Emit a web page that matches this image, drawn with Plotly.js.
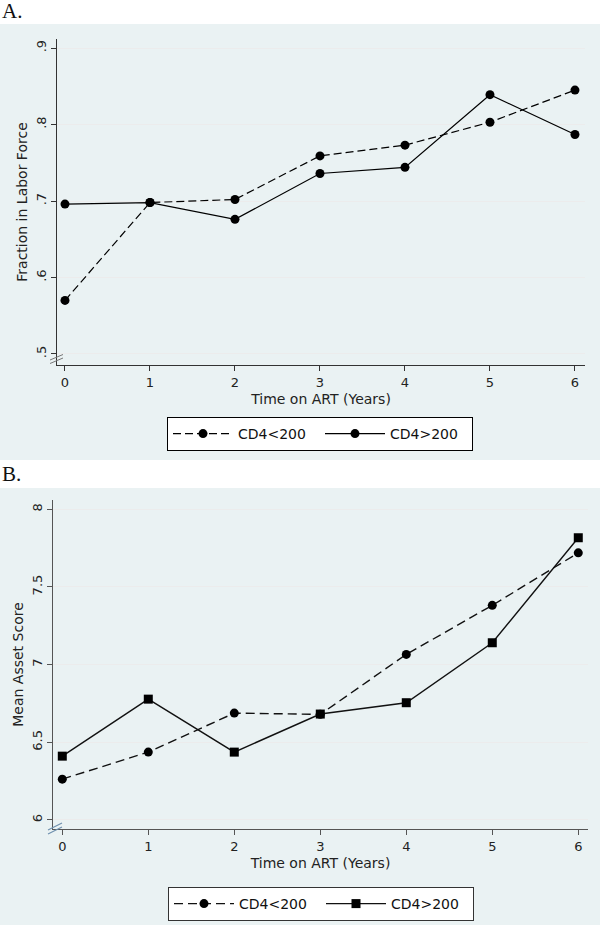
<!DOCTYPE html>
<html>
<head>
<meta charset="utf-8">
<script src="https://cdn.plot.ly/plotly-3.0.1.min.js"></script>
<style>
html,body{margin:0;padding:0;background:#fff;}
#chart{width:600px;height:925px;}
</style>
</head>
<body>
<div id="chart"></div>
<script>
// ---- data ----
const years = [0, 1, 2, 3, 4, 5, 6];
const laborLow  = [0.570, 0.698, 0.702, 0.759, 0.773, 0.803, 0.845];   // CD4<200
const laborHigh = [0.696, 0.698, 0.676, 0.736, 0.744, 0.839, 0.787];   // CD4>200
const assetLow  = [6.263, 6.437, 6.688, 6.680, 7.066, 7.382, 7.720];   // CD4<200
const assetHigh = [6.411, 6.778, 6.437, 6.682, 6.755, 7.141, 7.817];   // CD4>200
const xTicks = [0, 1, 2, 3, 4, 5, 6];
const yTicksA = [0.5, 0.6, 0.7, 0.8, 0.9];
const yTickTextA = ['.5', '.6', '.7', '.8', '.9'];
const yTicksB = [6, 6.5, 7, 7.5, 8];
const yTickTextB = ['6', '6.5', '7', '7.5', '8'];
const nameLow = 'CD4&lt;200';
const nameHigh = 'CD4&gt;200';
const titleX = 'Time on ART (Years)';
const titleYA = 'Fraction in Labor Force';
const titleYB = 'Mean Asset Score';

const W = 600, H = 925;
const px = (x) => x / W;
const py = (y) => 1 - y / H;
const FONT = 'DejaVu Sans, Verdana, sans-serif';
const BG = '#eaf2f3';

const traces = [
  {x: years, y: laborLow, name: nameLow, mode: 'lines+markers', xaxis: 'x', yaxis: 'y', legend: 'legend',
   line: {color: '#000', width: 1.2, dash: '8px,4px'}, marker: {symbol: 'circle', size: 9, color: '#000'}},
  {x: years, y: laborHigh, name: nameHigh, mode: 'lines+markers', xaxis: 'x', yaxis: 'y', legend: 'legend',
   line: {color: '#000', width: 1.2}, marker: {symbol: 'circle', size: 9, color: '#000'}},
  {x: years, y: assetLow, name: nameLow, mode: 'lines+markers', xaxis: 'x2', yaxis: 'y2', legend: 'legend2',
   line: {color: '#111', width: 1.4, dash: '9px,5px'}, marker: {symbol: 'circle', size: 9, color: '#000'}},
  {x: years, y: assetHigh, name: nameHigh, mode: 'lines+markers', xaxis: 'x2', yaxis: 'y2', legend: 'legend2',
   line: {color: '#111', width: 1.4}, marker: {symbol: 'square', size: 9, color: '#000'}}
];

const xCommon = {
  tickmode: 'array', tickvals: xTicks, ticks: 'outside', ticklen: 5, tickcolor: '#333',
  showline: true, linecolor: '#333', linewidth: 1.2, showgrid: false, zeroline: false,
  tickfont: {family: FONT, size: 13, color: '#222'},
  title: {text: titleX, font: {family: FONT, size: 14, color: '#222'}, standoff: 5}
};
const yCommon = {
  tickmode: 'array', ticks: 'outside', ticklen: 5, tickcolor: '#333', tickangle: -90,
  showline: true, linecolor: '#333', linewidth: 1.2, showgrid: true, gridcolor: '#ececec', gridwidth: 1,
  zeroline: false, tickfont: {family: FONT, size: 13, color: '#222'}
};

const legendCommon = {
  orientation: 'h', xanchor: 'center', yanchor: 'top',
  bgcolor: '#fff', borderwidth: 1, itemwidth: 60, entrywidth: 77,
  font: {family: FONT, size: 14, color: '#111'}
};

const layout = {
  width: W, height: H,
  margin: {l: 0, r: 0, t: 0, b: 0},
  paper_bgcolor: '#fff', plot_bgcolor: '#fff',
  showlegend: true,
  xaxis: Object.assign({}, xCommon, {domain: [px(57), px(585)], range: [-0.094, 6.118], anchor: 'y'}),
  yaxis: Object.assign({}, yCommon, {domain: [py(365), py(39)], range: [0.4856, 0.9118], anchor: 'x',
    tickvals: yTicksA, ticktext: yTickTextA,
    title: {text: titleYA, font: {family: FONT, size: 14, color: '#222'}, standoff: 2}}),
  xaxis2: Object.assign({}, xCommon, {domain: [px(53), px(588)], range: [-0.108, 6.113], anchor: 'y2',
    linecolor: '#555', tickcolor: '#555'}),
  yaxis2: Object.assign({}, yCommon, {domain: [py(829), py(500)], range: [5.942, 8.06], anchor: 'x2',
    linecolor: '#555', tickcolor: '#555',
    tickvals: yTicksB, ticktext: yTickTextB,
    title: {text: titleYB, font: {family: FONT, size: 14, color: '#222'}, standoff: 2}}),
  legend: Object.assign({}, legendCommon, {x: px(320), y: py(417), bordercolor: '#000'}),
  legend2: Object.assign({}, legendCommon, {x: px(321), y: py(887), bordercolor: '#333'}),
  shapes: [
    {type: 'rect', xref: 'paper', yref: 'paper', x0: 0, x1: 1, y0: py(460), y1: py(24),
     fillcolor: BG, line: {width: 0}, layer: 'below'},
    {type: 'rect', xref: 'paper', yref: 'paper', x0: 0, x1: 1, y0: py(925), y1: py(488),
     fillcolor: BG, line: {width: 0}, layer: 'below'},
    // axis break marks
    {type: 'line', xref: 'paper', yref: 'paper', x0: px(50), y0: py(360), x1: px(63), y1: py(354.5),
     line: {color: '#777', width: 1}},
    {type: 'line', xref: 'paper', yref: 'paper', x0: px(50), y0: py(363.5), x1: px(63), y1: py(358),
     line: {color: '#777', width: 1}},
    {type: 'line', xref: 'paper', yref: 'paper', x0: px(48), y0: py(830), x1: px(62), y1: py(823),
     line: {color: '#6f8fae', width: 1.2}},
    {type: 'line', xref: 'paper', yref: 'paper', x0: px(48), y0: py(834), x1: px(62), y1: py(827),
     line: {color: '#6f8fae', width: 1.2}}
  ],
  annotations: [
    {text: 'A.', xref: 'paper', yref: 'paper', x: 0, y: py(11), xanchor: 'left', yanchor: 'middle',
     showarrow: false, font: {family: 'Liberation Serif, Times New Roman, serif', size: 21, color: '#111'}},
    {text: 'B.', xref: 'paper', yref: 'paper', x: 0, y: py(474), xanchor: 'left', yanchor: 'middle',
     showarrow: false, font: {family: 'Liberation Serif, Times New Roman, serif', size: 21, color: '#111'}}
  ]
};

Plotly.newPlot('chart', traces, layout, {staticPlot: true, displayModeBar: false});
</script>
</body>
</html>
